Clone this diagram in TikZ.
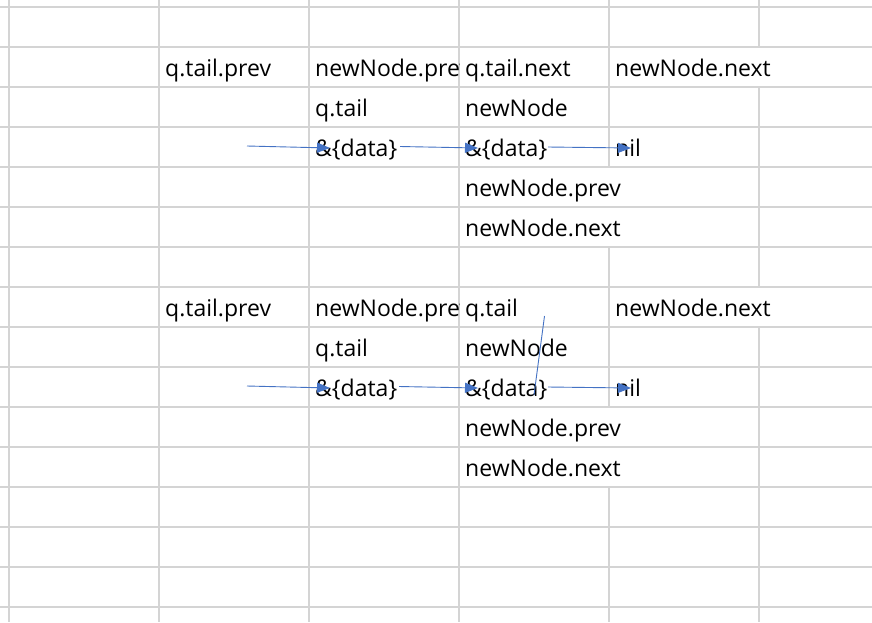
\documentclass[tikz,border=0pt]{standalone}
\usepackage{fontspec}
\setmainfont{Open Sans}
\usetikzlibrary{arrows.meta}
\definecolor{gridgray}{HTML}{D4D4D4}
\definecolor{ptrblue}{HTML}{4472C4}
\tikzset{
    gridline/.style={gridgray, line width=1.6pt},
    cell/.style={anchor=base west, inner sep=0pt, font=\fontsize{23}{27}\selectfont},
    ptr/.style={ptrblue, line width=0.9pt, -{Triangle[length=13pt,width=10pt]}},
}
\begin{document}
\begin{tikzpicture}[x=1pt,y=-1pt]
    \useasboundingbox[fill=white] (0,0) rectangle (872,622);
    % sheet grid
    \foreach \y in {7,47,...,607} \draw[gridline] (0,\y) -- (872,\y);
    \foreach \x in {9,159,309,459} \draw[gridline] (\x,0) -- (\x,622);
    \draw[gridline] (609,0) -- (609,167) (609,247) -- (609,407) (609,487) -- (609,622);
    \draw[gridline] (759,0) -- (759,47) (759,87) -- (759,287) (759,327) -- (759,622);

    % before
    \node[cell] (prevA) at (165,76) {q.tail.prev};
    \begin{scope}
        \clip (309,47) rectangle (459,87);
        \node[cell] (nprevA) at (315,76) {newNode.prev};
    \end{scope}
    \node[cell] (nextA) at (465,76) {q.tail.next};
    \node[cell] (nnextA) at (615,76) {newNode.next};
    \node[cell] (tailA) at (315,116) {q.tail};
    \node[cell] (newA) at (465,116) {newNode};
    \node[cell] (dataA) at (315,156) {\&\{data\}};
    \node[cell] (dataB) at (465,156) {\&\{data\}};
    \node[cell] (nilA) at (615,156) {nil};
    \node[cell] (fprevA) at (465,196) {newNode.prev};
    \node[cell] (fnextA) at (465,236) {newNode.next};

    \coordinate (inA) at (247,146);
    \coordinate (tipA) at (330,148);
    \coordinate (outA) at (400,146.5);
    \coordinate (tipB) at (478,148);
    \coordinate (outB) at (548,147);
    \coordinate (tipC) at (631,148);
    \draw[ptr] (inA) -- (tipA);
    \draw[ptr] (outA) -- (tipB);
    \draw[ptr] (outB) -- (tipC);

    % after
    \node[cell] (prevC) at (165,316) {q.tail.prev};
    \begin{scope}
        \clip (309,287) rectangle (459,327);
        \node[cell] (nprevC) at (315,316) {newNode.prev};
    \end{scope}
    \node[cell] (tailD) at (465,316) {q.tail};
    \node[cell] (nnextC) at (615,316) {newNode.next};
    \node[cell] (tailC) at (315,356) {q.tail};
    \node[cell] (newC) at (465,356) {newNode};
    \node[cell] (dataC) at (315,396) {\&\{data\}};
    \node[cell] (dataD) at (465,396) {\&\{data\}};
    \node[cell] (nilC) at (615,396) {nil};
    \node[cell] (fprevC) at (465,436) {newNode.prev};
    \node[cell] (fnextC) at (465,476) {newNode.next};

    \coordinate (inC) at (247,386);
    \coordinate (tipD) at (330,388);
    \coordinate (outC) at (399,386.5);
    \coordinate (tipE) at (478,388);
    \coordinate (outD) at (548,387);
    \coordinate (tipF) at (631,388);
    \coordinate (slashT) at (544.5,316);
    \coordinate (slashB) at (534,395);
    \draw[ptr] (inC) -- (tipD);
    \draw[ptr] (outC) -- (tipE);
    \draw[ptr] (outD) -- (tipF);
    \draw[ptrblue, line width=0.9pt] (slashT) -- (slashB);
\end{tikzpicture}
\end{document}
